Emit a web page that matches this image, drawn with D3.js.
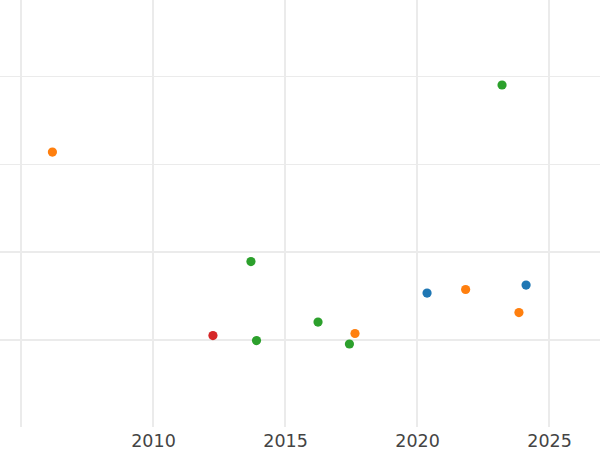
<!DOCTYPE html>
<html>
<head>
<meta charset="utf-8">
<script src="https://cdn.jsdelivr.net/npm/d3@7"></script>
<style>
  html, body { margin: 0; padding: 0; background: #fff; }
  svg { display: block; }
</style>
</head>
<body>
<svg id="chart" width="600" height="450"></svg>
<script>
// ---- data ----
const years  = [2006.19, 2023.22, 2013.71, 2020.38, 2021.84, 2024.13, 2023.86, 2016.25, 2017.65, 2012.27, 2013.92, 2017.44];
const values = [2.136, 2.898, 0.892, 0.534, 0.574, 0.625, 0.3125, 0.2045, 0.074, 0.051, -0.006, -0.045];
const groups = ["B", "C", "C", "A", "B", "A", "B", "C", "B", "D", "C", "C"];
const groupNames  = ["A", "B", "C", "D"];
const groupColors = ["#1f77b4", "#ff7f0e", "#2ca02c", "#d62728"];
const xTicks = [2005, 2010, 2015, 2020, 2025];
const xTickLabels = ["", "2010", "2015", "2020", "2025"];
const yTicks = [0, 1, 2, 3];

// ---- layout ----
const W = 600, H = 450;
const plotBottom = 426;
const svg = d3.select("#chart");

const x = d3.scaleLinear().domain([2004.205, 2026.93]).range([0, 600]);
const y = d3.scaleLinear().domain([-0.977, 3.864]).range([plotBottom, 0]);
const color = d3.scaleOrdinal().domain(groupNames).range(groupColors);

// horizontal grid
svg.append("g")
  .selectAll("line").data(yTicks).join("line")
  .attr("x1", 0).attr("x2", W)
  .attr("y1", d => d <= 1 ? Math.round(y(d)) : Math.round(y(d)) + 0.5)
  .attr("y2", d => d <= 1 ? Math.round(y(d)) : Math.round(y(d)) + 0.5)
  .attr("stroke", "#ebebeb")
  .attr("stroke-width", d => d <= 1 ? 2 : 1);

// vertical grid
svg.append("g")
  .selectAll("line").data(xTicks).join("line")
  .attr("x1", d => x(d)).attr("x2", d => x(d))
  .attr("y1", 0).attr("y2", plotBottom + 1)
  .attr("stroke", "#ebebeb")
  .attr("stroke-width", 2);

// x axis labels
const xAxis = d3.axisBottom(x)
  .tickValues(xTicks)
  .tickFormat((d, i) => xTickLabels[i])
  .tickSize(0)
  .tickPadding(0);
const gx = svg.append("g").attr("transform", `translate(0,${plotBottom})`).call(xAxis);
gx.select(".domain").remove();
gx.selectAll("text")
  .attr("y", 21.3)
  .attr("dy", 0)
  .attr("fill", "#444")
  .style("font-family", "'DejaVu Sans', sans-serif")
  .style("font-size", "17.5px");

// points
svg.append("g")
  .selectAll("circle").data(years.map((yr, i) => ({yr, v: values[i], g: groups[i]}))).join("circle")
  .attr("cx", d => x(d.yr))
  .attr("cy", d => y(d.v))
  .attr("r", 4.6)
  .attr("fill", d => color(d.g));
</script>
</body>
</html>
